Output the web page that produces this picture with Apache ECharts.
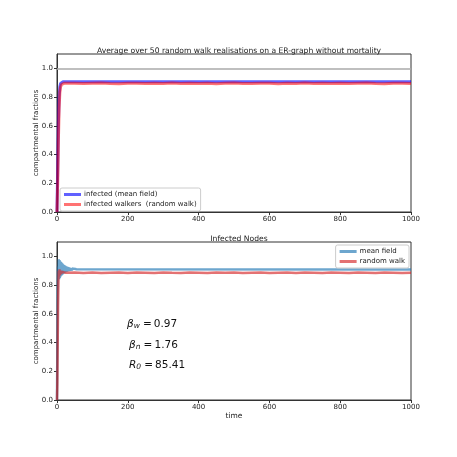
<!DOCTYPE html>
<html>
<head>
<meta charset="utf-8">
<script src="https://cdn.jsdelivr.net/npm/echarts@6/dist/echarts.min.js"></script>
<style>
  html, body { margin: 0; padding: 0; background: #fff; }
  #chart { width: 457px; height: 457px; }
</style>
</head>
<body>
<div id="chart"></div>
<script>
// upper panel: averages over 50 realisations
const topMeanT = [0, 2, 4, 6, 8, 10, 12, 14, 17, 22, 30, 1000]
const topMeanV = [0, 0.32, 0.62, 0.8, 0.87, 0.895, 0.903, 0.906, 0.907, 0.907, 0.907, 0.907]
const topWalkT = [0, 2, 4, 6, 8, 10, 13, 16, 20,
  25, 50, 75, 100, 125, 150, 175, 200, 225, 250, 275, 300, 325, 350, 375, 400, 425, 450, 475, 500,
  525, 550, 575, 600, 625, 650, 675, 700, 725, 750, 775, 800, 825, 850, 875, 900, 925, 950, 975, 1000]
const topWalkV = [0, 0.2, 0.5, 0.72, 0.83, 0.87, 0.888, 0.894, 0.896,
  0.895, 0.897, 0.894, 0.896, 0.898, 0.895, 0.893, 0.897, 0.896, 0.894, 0.897, 0.895, 0.898, 0.894, 0.896, 0.895,
  0.897, 0.893, 0.896, 0.898, 0.895, 0.894, 0.897, 0.896, 0.893, 0.897, 0.895, 0.898, 0.894, 0.896, 0.895, 0.897,
  0.894, 0.896, 0.898, 0.895, 0.893, 0.896, 0.897, 0.895]
const refLevel = 1.0

// lower panel: infected nodes
const botMeanT = [0, 1, 2, 3, 4, 5, 6, 7, 8, 9, 10, 11, 12, 13, 14, 15, 16, 17, 18, 19, 20,
  21, 22, 23, 24, 25, 26, 27, 28, 29, 30, 31, 32, 33, 34, 35, 36, 37, 38, 39, 40,
  41, 42, 43, 44, 45, 46, 47, 48, 49, 50, 51, 52, 53, 54, 55, 56, 57, 58, 59, 60, 1000]
const botMeanV = [0, 0.38, 0.74, 0.93, 0.86, 0.98, 0.84, 0.975, 0.85, 0.965, 0.86, 0.96, 0.865, 0.955, 0.87, 0.95, 0.875, 0.945, 0.88, 0.94, 0.885,
  0.937, 0.888, 0.934, 0.89, 0.931, 0.892, 0.929, 0.894, 0.927, 0.896, 0.925, 0.897, 0.923, 0.898, 0.921, 0.899, 0.92, 0.9, 0.918, 0.901,
  0.917, 0.902, 0.916, 0.903, 0.915, 0.904, 0.914, 0.904, 0.913, 0.905, 0.912, 0.906, 0.911, 0.906, 0.911, 0.907, 0.91, 0.907, 0.91, 0.908, 0.909]
const botWalkT = [0, 1, 2, 3, 4, 5, 6, 7, 8, 9, 10, 11, 12, 13, 14, 15, 16, 17, 18, 19, 20,
  25, 50, 75, 100, 125, 150, 175, 200, 225, 250, 275, 300, 325, 350, 375, 400, 425, 450, 475, 500,
  525, 550, 575, 600, 625, 650, 675, 700, 725, 750, 775, 800, 825, 850, 875, 900, 925, 950, 975, 1000]
const botWalkV = [0, 0.12, 0.4, 0.66, 0.82, 0.9, 0.86, 0.91, 0.87, 0.9, 0.875, 0.895, 0.878, 0.893, 0.88, 0.892, 0.882, 0.89, 0.883, 0.889, 0.884,
  0.886, 0.888, 0.885, 0.887, 0.884, 0.886, 0.888, 0.885, 0.887, 0.886, 0.884, 0.888, 0.886, 0.885, 0.887, 0.886,
  0.884, 0.887, 0.886, 0.888, 0.885, 0.886, 0.887, 0.884, 0.886, 0.888, 0.885, 0.887, 0.886, 0.884, 0.887, 0.886,
  0.885, 0.888, 0.886, 0.884, 0.887, 0.886, 0.885, 0.886]

const xTicks = [0, 200, 400, 600, 800, 1000]
const yTicks = [0.0, 0.2, 0.4, 0.6, 0.8, 1.0]

// parameters shown in the lower panel
const paramNames = ['β', 'β', 'R']
const paramSubs = ['w', 'n', '0']
const paramValues = ['0.97', '1.76', '85.41']

const pairs = (t, v) => t.map((x, i) => [x, v[i]])

const font = 'DejaVu Sans'
const ink = '#222'
const thin = '\u2009'

const xAxisBase = (gridIndex, withName) => ({
  type: 'value',
  gridIndex,
  min: xTicks[0],
  max: xTicks[xTicks.length - 1],
  interval: xTicks[1] - xTicks[0],
  name: withName ? 'time' : '',
  nameLocation: 'middle',
  nameGap: 12,
  nameMoveOverlap: false,
  nameTextStyle: { fontFamily: font, fontSize: 7.5, color: ink },
  axisLine: { show: true, lineStyle: { color: '#333', width: 1 } },
  axisTick: { show: true, length: 3, lineStyle: { color: '#333' } },
  axisLabel: { fontFamily: font, fontSize: 7, color: ink, margin: 4, formatter: v => String(v) },
  splitLine: { show: false }
})

const yAxisBase = (gridIndex) => ({
  type: 'value',
  gridIndex,
  min: 0,
  max: 1.1,
  interval: yTicks[1] - yTicks[0],
  name: 'compartmental fractions',
  nameLocation: 'middle',
  nameGap: 17,
  nameMoveOverlap: false,
  nameRotate: 90,
  nameTextStyle: { fontFamily: font, fontSize: 7, color: ink },
  axisLine: { show: true, lineStyle: { color: '#333', width: 1 } },
  axisTick: { show: true, length: 3, lineStyle: { color: '#333' } },
  axisLabel: {
    fontFamily: font, fontSize: 7, color: ink, margin: 4,
    showMaxLabel: false,
    formatter: v => (v > 1.05 ? '' : v.toFixed(1))
  },
  splitLine: { show: false }
})

const chart = echarts.init(document.getElementById('chart'), null, { renderer: 'canvas' })

const option = {
  backgroundColor: '#fff',
  animation: false,
  title: [
    {
      text: 'Average over 50 random walk realisations on a ER-graph without mortality',
      left: 234, top: 42, textAlign: 'center',
      textStyle: { fontFamily: font, fontSize: 7.6, fontWeight: 'normal', color: ink }
    },
    {
      text: 'Infected Nodes',
      left: 234, top: 230, textAlign: 'center',
      textStyle: { fontFamily: font, fontSize: 7.6, fontWeight: 'normal', color: ink }
    }
  ],
  grid: [
    { left: 57, right: 46, top: 54, height: 158, show: true, borderColor: '#333', borderWidth: 1, backgroundColor: 'transparent' },
    { left: 57, right: 46, top: 242, height: 158, show: true, borderColor: '#333', borderWidth: 1, backgroundColor: 'transparent' }
  ],
  xAxis: [xAxisBase(0, false), xAxisBase(1, true)],
  yAxis: [yAxisBase(0), yAxisBase(1)],
  legend: [
    {
      data: ['infected (mean field)', 'infected walkers  (random walk)'],
      orient: 'vertical',
      left: 60, top: 188,
      icon: 'rect', itemWidth: 17, itemHeight: 3, itemGap: 3,
      padding: [3, 4, 3, 4],
      borderColor: '#ccc', borderWidth: 1, borderRadius: 2, backgroundColor: '#fff',
      textStyle: { fontFamily: font, fontSize: 7, color: ink, padding: [0, 0, 0, -2] }
    },
    {
      data: ['mean field', 'random walk'],
      orient: 'vertical',
      right: 48, top: 245,
      icon: 'rect', itemWidth: 17, itemHeight: 3, itemGap: 3,
      padding: [3, 4, 3, 4],
      borderColor: '#ccc', borderWidth: 1, borderRadius: 2, backgroundColor: '#fff',
      textStyle: { fontFamily: font, fontSize: 7, color: ink, padding: [0, 0, 0, -2] }
    }
  ],
  series: [
    {
      name: 'infected (mean field)', type: 'line', xAxisIndex: 0, yAxisIndex: 0,
      data: pairs(topMeanT, topMeanV), showSymbol: false, symbol: 'none',
      lineStyle: { color: 'rgba(0,0,255,0.62)', width: 3 },
      itemStyle: { color: 'rgba(0,0,255,0.62)' },
      markLine: {
        silent: true, symbol: 'none', label: { show: false },
        lineStyle: { color: '#aaa', width: 1.5, type: 'solid' },
        data: [{ yAxis: refLevel }]
      }
    },
    {
      name: 'infected walkers  (random walk)', type: 'line', xAxisIndex: 0, yAxisIndex: 0,
      data: pairs(topWalkT, topWalkV), showSymbol: false, symbol: 'none',
      lineStyle: { color: 'rgba(255,0,0,0.55)', width: 3 },
      itemStyle: { color: 'rgba(255,0,0,0.55)' }
    },
    {
      name: 'mean field', type: 'line', xAxisIndex: 1, yAxisIndex: 1,
      data: pairs(botMeanT, botMeanV), showSymbol: false, symbol: 'none',
      lineStyle: { color: 'rgba(31,119,180,0.65)', width: 2.5 },
      itemStyle: { color: 'rgba(31,119,180,0.65)' }
    },
    {
      name: 'random walk', type: 'line', xAxisIndex: 1, yAxisIndex: 1,
      data: pairs(botWalkT, botWalkV), showSymbol: false, symbol: 'none',
      lineStyle: { color: 'rgba(214,39,40,0.65)', width: 2.5 },
      itemStyle: { color: 'rgba(214,39,40,0.65)' }
    }
  ],
  graphic: paramNames.map((g, i) => ({
    type: 'text',
    left: i === 0 ? 127 : 129,
    top: [319, 340, 360][i],
    style: {
      text: '{g|' + g + '}{s|' + paramSubs[i] + '}{n|' + thin + '=' + thin + paramValues[i] + '}',
      rich: {
        g: { fontFamily: font, fontSize: 10.5, fontStyle: 'italic', fill: '#111', verticalAlign: 'bottom', lineHeight: 13 },
        s: { fontFamily: font, fontSize: 7.5, fontStyle: 'italic', fill: '#111', verticalAlign: 'bottom', lineHeight: 10, padding: [0, 1, 0, 0] },
        n: { fontFamily: font, fontSize: 10.5, fill: '#111', verticalAlign: 'bottom', lineHeight: 13 }
      }
    }
  }))
}

chart.setOption(option)
</script>
</body>
</html>
